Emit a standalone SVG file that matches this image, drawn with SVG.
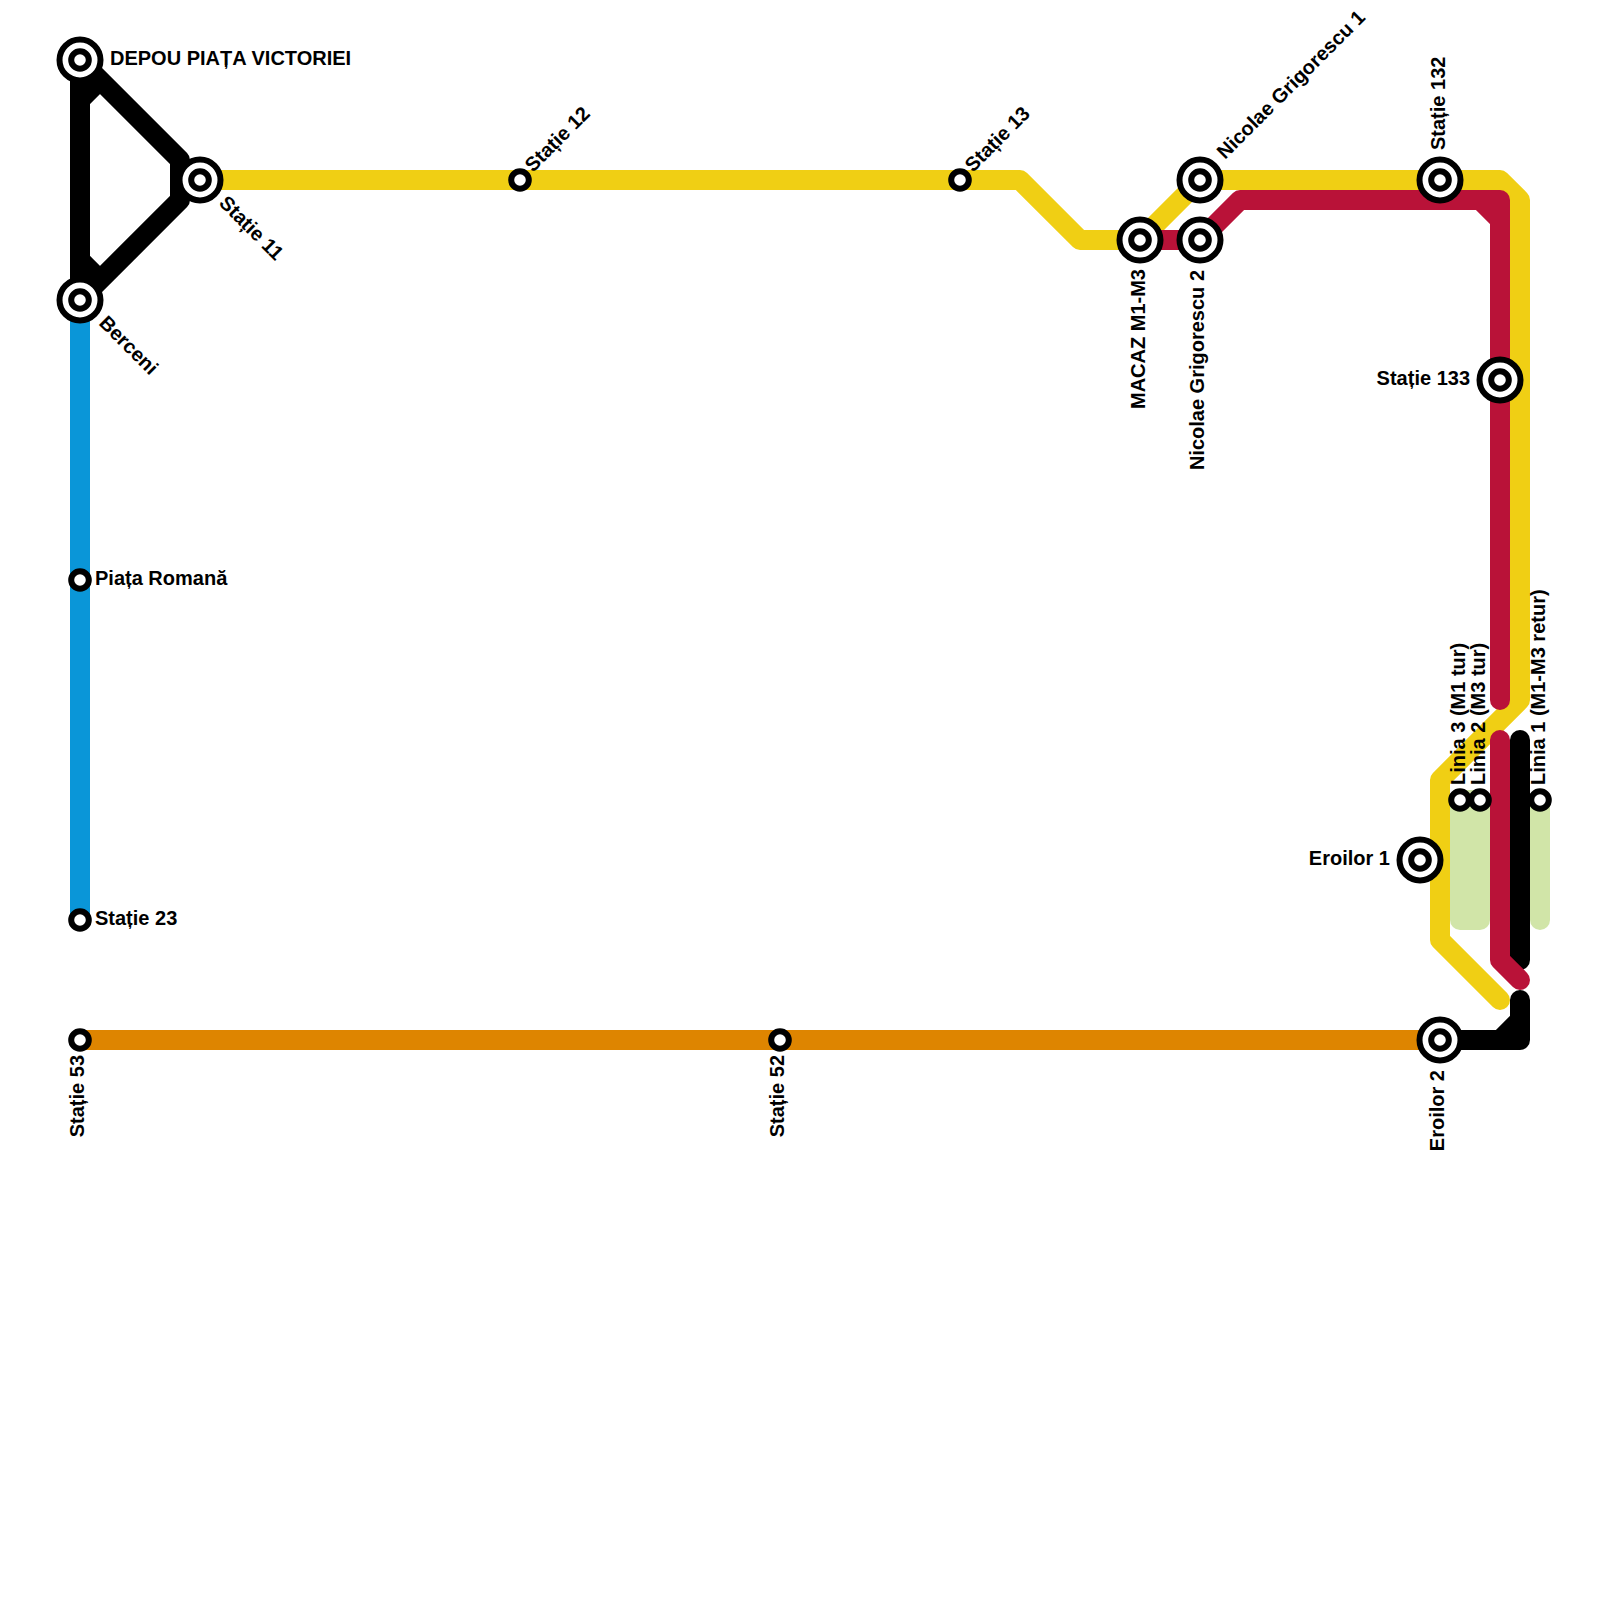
<svg xmlns="http://www.w3.org/2000/svg" width="1600" height="1600" viewBox="0 0 1600 1600">
<style>
.l{fill:none;stroke-width:20;stroke-linecap:round;stroke-linejoin:round}
.g{stroke:#d1e5a8}.y{stroke:#f0cf14}.r{stroke:#b91238}.k{stroke:#000}.b{stroke:#0a96d8}.o{stroke:#de8500}
.s{fill:#fff;stroke:#000}
.a{stroke-width:6}.c{stroke-width:6}
text{font-family:"Liberation Sans",Arial,sans-serif;font-size:20px;font-weight:700;fill:#000}
</style>
<rect width="1600" height="1600" fill="#fff"/>
<g id="connectors">
<path class="l g" style="fill:#d1e5a8" d="M1460 800V920H1480V800Z"/>
<path class="l g" d="M1540 800V920"/>
<path class="l b" d="M80 300V920"/>
<path class="l o" d="M80 1040H1440"/>
<path class="l y" d="M200 180H1020L1080 240H1140L1200 180H1500L1520 200V700L1440 780V940L1500 1000"/>
<path class="l k" d="M80 60V300M80 100L100 80M80 60L180 160V200L80 300M80 260L100 280"/>
<path class="l k" d="M1520 740V960M1520 1000V1040H1440M1500 1040L1520 1020"/>
<path class="l r" d="M1140 240H1200L1240 200H1500V700M1480 200L1500 220M1500 740V960L1520 980"/>
</g>
<g id="st-depou"><circle class="s a" cx="80" cy="60" r="20.5"/><circle class="s c" cx="80" cy="60" r="8.8"/><text x="110" y="65">DEPOU PIAȚA VICTORIEI</text></g>
<g id="st-11"><circle class="s a" cx="200" cy="180" r="20.5"/><circle class="s c" cx="200" cy="180" r="8.8"/><text transform="translate(218 204) rotate(45)">Stație 11</text></g>
<g id="st-berceni"><circle class="s a" cx="80" cy="300" r="20.5"/><circle class="s c" cx="80" cy="300" r="8.8"/><text transform="translate(98 324) rotate(45)">Berceni</text></g>
<g id="st-12"><circle class="s c" cx="520" cy="180" r="8.8"/><text transform="translate(533 173) rotate(-45)">Stație 12</text></g>
<g id="st-13"><circle class="s c" cx="960" cy="180" r="8.8"/><text transform="translate(973 173) rotate(-45)">Stație 13</text></g>
<g id="st-macaz"><circle class="s a" cx="1140" cy="240" r="20.5"/><circle class="s c" cx="1140" cy="240" r="8.8"/><text transform="translate(1145 269) rotate(-90)" text-anchor="end">MACAZ M1-M3</text></g>
<g id="st-ng2"><circle class="s a" cx="1200" cy="240" r="20.5"/><circle class="s c" cx="1200" cy="240" r="8.8"/><text transform="translate(1204 270) rotate(-90)" text-anchor="end">Nicolae Grigorescu 2</text></g>
<g id="st-ng1"><circle class="s a" cx="1200" cy="180" r="20.5"/><circle class="s c" cx="1200" cy="180" r="8.8"/><text transform="translate(1225 160) rotate(-45)">Nicolae Grigorescu 1</text></g>
<g id="st-132"><circle class="s a" cx="1440" cy="180" r="20.5"/><circle class="s c" cx="1440" cy="180" r="8.8"/><text transform="translate(1445 150) rotate(-90)">Stație 132</text></g>
<g id="st-133"><circle class="s a" cx="1500" cy="380" r="20.5"/><circle class="s c" cx="1500" cy="380" r="8.8"/><text x="1470" y="385" text-anchor="end">Stație 133</text></g>
<g id="st-piata"><circle class="s c" cx="80" cy="580" r="8.8"/><text x="95" y="585">Piața Romană</text></g>
<g id="st-23"><circle class="s c" cx="80" cy="920" r="8.8"/><text x="95" y="925">Stație 23</text></g>
<g id="st-53"><circle class="s c" cx="80" cy="1040" r="8.8"/><text transform="translate(84 1055) rotate(-90)" text-anchor="end">Stație 53</text></g>
<g id="st-52"><circle class="s c" cx="780" cy="1040" r="8.8"/><text transform="translate(784 1055) rotate(-90)" text-anchor="end">Stație 52</text></g>
<g id="st-e2"><circle class="s a" cx="1440" cy="1040" r="20.5"/><circle class="s c" cx="1440" cy="1040" r="8.8"/><text transform="translate(1444 1070) rotate(-90)" text-anchor="end">Eroilor 2</text></g>
<g id="st-e1"><circle class="s a" cx="1420" cy="860" r="20.5"/><circle class="s c" cx="1420" cy="860" r="8.8"/><text x="1390" y="865" text-anchor="end">Eroilor 1</text></g>
<g id="st-l3"><circle class="s c" cx="1460" cy="800" r="8.8"/><text transform="translate(1464.5 785) rotate(-90)">Linia 3 (M1 tur)</text></g>
<g id="st-l2"><circle class="s c" cx="1480" cy="800" r="8.8"/><text transform="translate(1484.5 785) rotate(-90)">Linia 2 (M3 tur)</text></g>
<g id="st-l1"><circle class="s c" cx="1540" cy="800" r="8.8"/><text transform="translate(1544.5 785) rotate(-90)">Linia 1 (M1-M3 retur)</text></g>
</svg>
